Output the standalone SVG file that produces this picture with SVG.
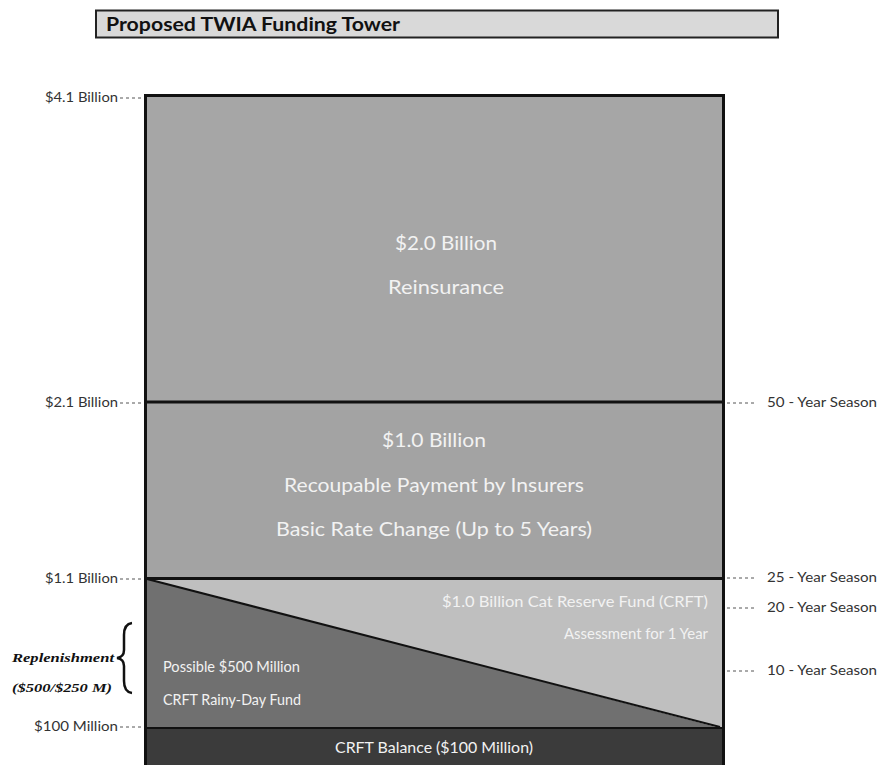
<svg xmlns="http://www.w3.org/2000/svg" width="881" height="765" viewBox="0 0 881 765">
<style>
.lbl{font-family:Lato,"Open Sans","Liberation Sans",sans-serif;font-size:13px;fill:#333;}
.in{font-family:Lato,"Open Sans","Liberation Sans",sans-serif;fill:#f2f2f2;}
.big{font-size:20px;}
.sm{font-size:15px;}
.dash{stroke:#555;stroke-width:1;stroke-dasharray:3,3;fill:none;}
.rep{font-family:"Liberation Serif","DejaVu Serif",serif;font-size:13px;font-weight:bold;font-style:italic;fill:#111;}
</style>
<rect width="881" height="765" fill="#ffffff"/>
<g id="title">
<rect x="96" y="10.5" width="682" height="27" fill="#d9d9d9" stroke="#222" stroke-width="2"/>
<text x="106" y="31" font-family="Lato,Open Sans,Liberation Sans,sans-serif" font-size="19" font-weight="bold" fill="#111" textLength="294" lengthAdjust="spacingAndGlyphs">Proposed TWIA Funding Tower</text>
</g>
<g id="reinsurance">
<rect x="146" y="96" width="577" height="306" fill="#a6a6a6"/>
<text class="in big" x="446" y="250" text-anchor="middle" textLength="102" lengthAdjust="spacingAndGlyphs">$2.0 Billion</text>
<text class="in big" x="446" y="294" text-anchor="middle" textLength="116" lengthAdjust="spacingAndGlyphs">Reinsurance</text>
</g>
<g id="recoupable">
<rect x="146" y="402" width="577" height="176" fill="#a3a3a3"/>
<text class="in big" x="434" y="447" text-anchor="middle" textLength="104" lengthAdjust="spacingAndGlyphs">$1.0 Billion</text>
<text class="in big" x="434" y="492" text-anchor="middle" textLength="300" lengthAdjust="spacingAndGlyphs">Recoupable Payment by Insurers</text>
<text class="in big" x="434" y="536" text-anchor="middle" textLength="316" lengthAdjust="spacingAndGlyphs">Basic Rate Change (Up to 5 Years)</text>
</g>
<g id="crft-assessment">
<polygon points="146,578 723,578 723,728" fill="#bfbfbf"/>
<text class="in sm" x="708" y="607" text-anchor="end" textLength="266" lengthAdjust="spacingAndGlyphs">$1.0 Billion Cat Reserve Fund (CRFT)</text>
<text class="in sm" x="708" y="639" text-anchor="end" textLength="144" lengthAdjust="spacingAndGlyphs">Assessment for 1 Year</text>
</g>
<g id="rainy-day">
<polygon points="146,578 720,728 146,728" fill="#707070"/>
<text class="in sm" x="163" y="672" textLength="137" lengthAdjust="spacingAndGlyphs">Possible $500 Million</text>
<text class="in sm" x="163" y="705" textLength="138" lengthAdjust="spacingAndGlyphs">CRFT Rainy-Day Fund</text>
</g>
<g id="balance">
<rect x="146" y="728" width="577" height="40" fill="#3b3b3b"/>
<text class="in sm" x="434" y="753" text-anchor="middle" textLength="198" lengthAdjust="spacingAndGlyphs">CRFT Balance ($100 Million)</text>
</g>
<g id="connectors">
<line x1="147" y1="579" x2="720" y2="727" stroke="#111" stroke-width="2"/>
<line x1="146" y1="402" x2="723" y2="402" stroke="#111" stroke-width="3"/>
<line x1="146" y1="578.5" x2="723" y2="578.5" stroke="#111" stroke-width="3"/>
<line x1="146" y1="728" x2="723" y2="728" stroke="#111" stroke-width="2"/>
<rect x="145.5" y="95.5" width="578" height="690" fill="none" stroke="#111" stroke-width="3"/>
<path class="dash" d="M120,98 H144 M120,403 H144 M120,579 H144 M120,727 H144"/>
<path class="dash" d="M727,403 H756 M727,578 H756 M727,608 H756 M727,671 H756"/>
<path d="M132,623 Q124,624 124,635 L124,650 Q124,657 117,658 Q124,659 124,666 L124,681 Q124,692 132,693" fill="none" stroke="#111" stroke-width="2.5"/>
</g>
<g id="labels">
<text class="lbl" x="118" y="102" text-anchor="end" textLength="73" lengthAdjust="spacingAndGlyphs">$4.1 Billion</text>
<text class="lbl" x="118" y="407" text-anchor="end" textLength="73" lengthAdjust="spacingAndGlyphs">$2.1 Billion</text>
<text class="lbl" x="118" y="583" text-anchor="end" textLength="73" lengthAdjust="spacingAndGlyphs">$1.1 Billion</text>
<text class="lbl" x="118" y="731" text-anchor="end" textLength="84" lengthAdjust="spacingAndGlyphs">$100 Million</text>
<text class="lbl" x="767" y="407" textLength="110" lengthAdjust="spacingAndGlyphs">50 - Year Season</text>
<text class="lbl" x="767" y="582" textLength="110" lengthAdjust="spacingAndGlyphs">25 - Year Season</text>
<text class="lbl" x="767" y="612" textLength="110" lengthAdjust="spacingAndGlyphs">20 - Year Season</text>
<text class="lbl" x="767" y="675" textLength="110" lengthAdjust="spacingAndGlyphs">10 - Year Season</text>
<text class="rep" x="12" y="662" textLength="102" lengthAdjust="spacingAndGlyphs">Replenishment</text>
<text class="rep" x="12" y="692" textLength="100" lengthAdjust="spacingAndGlyphs">($500/$250 M)</text>
</g>
</svg>
